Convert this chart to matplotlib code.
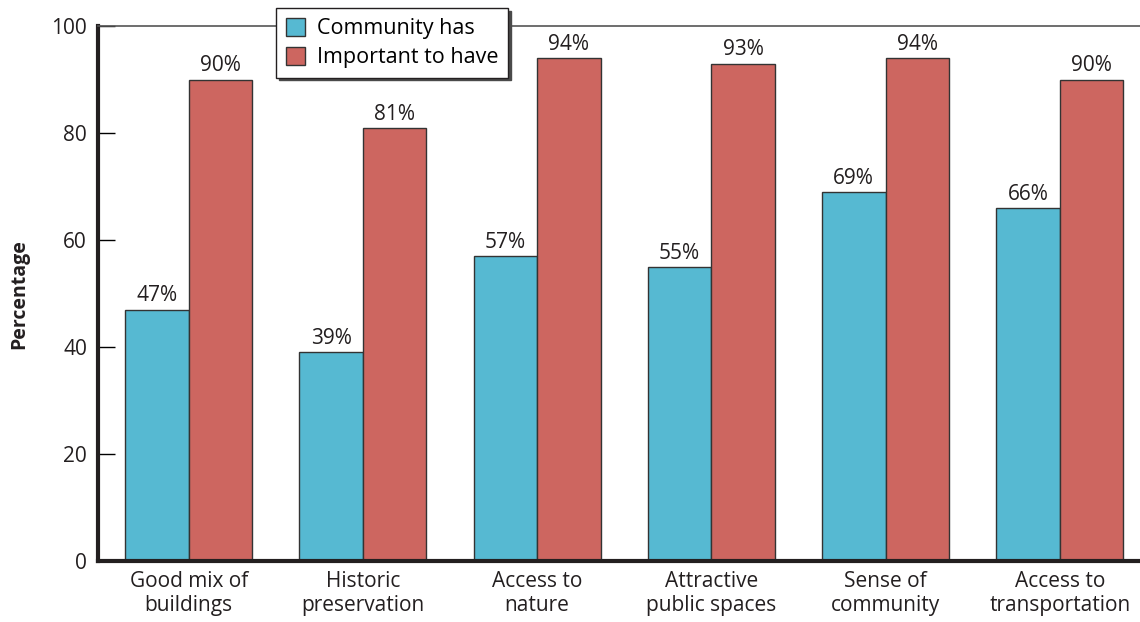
import numpy as np
import matplotlib.pyplot as plt

categories = ["Good mix of\nbuildings", "Historic\npreservation", "Access to\nnature",
              "Attractive\npublic spaces", "Sense of\ncommunity", "Access to\ntransportation"]
community_has = [47, 39, 57, 55, 69, 66]
important_to_have = [90, 81, 94, 93, 94, 90]

plt.rcParams['font.family'] = ['Open Sans', 'DejaVu Sans']

fig = plt.figure(figsize=(11.4, 6.22), dpi=100)
ax = fig.add_axes([0.086, 0.098, 0.914, 0.86])

x = np.arange(len(categories))
w = 0.365
b1 = ax.bar(x - w/2, community_has, w, color="#56b9d2", edgecolor="#333333", linewidth=1, label="Community has")
b2 = ax.bar(x + w/2, important_to_have, w, color="#cd6660", edgecolor="#333333", linewidth=1, label="Important to have")

for bars, vals in [(b1, community_has), (b2, important_to_have)]:
    for bar, v in zip(bars, vals):
        ax.text(bar.get_x() + bar.get_width()/2, v + 0.6, f"{v}%", ha="center", va="bottom",
                fontsize=15, color="#231f20")

ax.set_xlim(-0.52, 5.46)
ax.set_ylim(0, 100)
ax.set_yticks([0, 20, 40, 60, 80, 100])
ax.set_xticks(x)
ax.set_xticklabels(categories, fontsize=15, color="#231f20", linespacing=1.2)
ax.tick_params(axis="y", direction="in", length=12, width=1, labelsize=15, labelcolor="#231f20", pad=8)
ax.tick_params(axis="x", length=0, pad=7)
ax.set_ylabel("Percentage", fontsize=14, fontweight="bold", color="#231f20")
ax.yaxis.set_label_coords(-0.066, 0.5)

ax.spines["left"].set_linewidth(3)
ax.spines["bottom"].set_linewidth(3)
ax.spines["left"].set_color("#231f20")
ax.spines["bottom"].set_color("#231f20")
ax.spines["top"].set_linewidth(1.2)
ax.spines["top"].set_color("#555555")
ax.spines["right"].set_visible(False)

leg = ax.legend(loc="upper left", bbox_to_anchor=(0.242, 0.987), bbox_transform=fig.transFigure,
                fontsize=15.5, frameon=True, fancybox=False, shadow={"color": "#4a4a4a", "alpha": 1},
                edgecolor="#231f20", framealpha=1, handlelength=0.9, handleheight=0.9,
                borderpad=0.45, labelspacing=0.35, handletextpad=0.55, borderaxespad=0)
leg.get_frame().set_linewidth(1)

fig.savefig("out.png", dpi=100)
